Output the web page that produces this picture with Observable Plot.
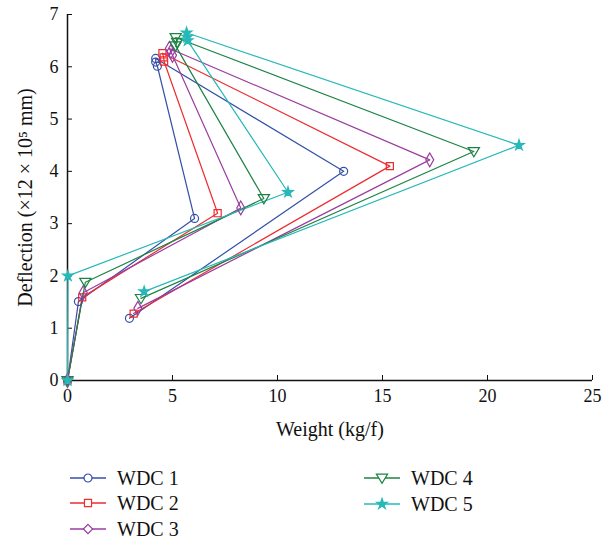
<!DOCTYPE html>
<html><head><meta charset="utf-8">
<script src="https://cdn.jsdelivr.net/npm/d3@7"></script>
<script src="https://cdn.jsdelivr.net/npm/@observablehq/plot@0.6"></script>
</head><body style="margin:0;background:#fff;font-family:'Liberation Serif',serif;">
<div id="wrap" style="position:relative;width:615px;height:543px;font-family:'Liberation Serif',serif;"><div id="chart"></div><div id="legend"></div></div>
<script>
const seriesNames = ["WDC 1", "WDC 2", "WDC 3", "WDC 4", "WDC 5"];
const seriesColors = ["#3350a8", "#ee2b2f", "#9b3d9f", "#1d8344", "#27b8b8"];

const wdc1X = [0, 0.52, 6.05, 4.28, 4.2, 4.2, 13.15, 2.95];
const wdc1Y = [0, 1.51, 3.1, 6.01, 6.09, 6.16, 4.0, 1.19];
const wdc2X = [0, 0.7, 7.15, 4.6, 4.58, 4.52, 15.35, 3.15];
const wdc2Y = [0, 1.59, 3.2, 6.1, 6.18, 6.26, 4.1, 1.28];
const wdc3X = [0, 0.75, 8.25, 5.0, 4.92, 4.85, 17.25, 3.35];
const wdc3Y = [0, 1.68, 3.3, 6.22, 6.29, 6.35, 4.22, 1.38];
const wdc4X = [0, 0.85, 9.35, 5.15, 5.22, 5.15, 19.35, 3.5];
const wdc4Y = [0, 1.88, 3.48, 6.4, 6.47, 6.56, 4.38, 1.57];
const wdc5X = [0, 0.02, 10.5, 5.72, 5.7, 5.67, 21.5, 3.65];
const wdc5Y = [0, 2.0, 3.6, 6.5, 6.57, 6.65, 4.5, 1.7];

const xTicks = [0, 5, 10, 15, 20, 25];
const yTicks = [0, 1, 2, 3, 4, 5, 6, 7];

const allX = [wdc1X, wdc2X, wdc3X, wdc4X, wdc5X];
const allY = [wdc1Y, wdc2Y, wdc3Y, wdc4Y, wdc5Y];

const rows = [];
seriesNames.forEach((name, s) => {
  allX[s].forEach((x, i) => rows.push({series: name, order: i, x, y: allY[s][i]}));
});

const triDown = {
  draw(ctx, size) {
    const s = Math.sqrt(size);
    ctx.moveTo(-0.72 * s, -0.5 * s);
    ctx.lineTo(0.72 * s, -0.5 * s);
    ctx.lineTo(0, 0.68 * s);
    ctx.closePath();
  }
};
const symbols = ["circle", "square", "diamond", triDown, "star"];
const fills = ["none", "none", "none", "none", seriesColors[4]];
const sizes = [4, 4, 4.2, 4.4, 3.3];

const dotMarks = seriesNames.map((name, s) =>
  Plot.dot(rows.filter(d => d.series === name), {
    x: "x", y: "y", stroke: seriesColors[s], fill: fills[s],
    symbol: symbols[s], r: sizes[s], strokeWidth: 1.2
  })
);
const lineMarks = seriesNames.map((name, s) =>
  Plot.line(rows.filter(d => d.series === name), {
    x: "x", y: "y", stroke: seriesColors[s], strokeWidth: 1.2, sort: null
  })
);

const serif = "'Liberation Serif', serif";
const chart = Plot.plot({
  width: 615,
  height: 455,
  marginLeft: 67,
  marginRight: 23,
  marginTop: 14,
  marginBottom: 75,
  style: {fontFamily: serif, fontSize: "18px", color: "#111", background: "#fff"},
  x: {domain: [0, 25], ticks: xTicks},
  y: {domain: [0, 7], ticks: yTicks},
  marks: [
    Plot.axisX({ticks: xTicks, tickFormat: d3.format("d"), tickSize: -5, tickPadding: 14, fontSize: 18, label: null}),
    Plot.axisY({ticks: yTicks, tickFormat: d3.format("d"), tickSize: -5, tickPadding: 14, fontSize: 18, label: null}),
    Plot.ruleY([0], {stroke: "#111", strokeWidth: 1.5}),
    Plot.ruleX([0], {stroke: "#111", strokeWidth: 1.5}),
    ...lineMarks,
    ...dotMarks,
    Plot.text(["Weight (kg/f)"], {frameAnchor: "bottom", dy: 55, fontSize: 20, fill: "#111"}),
    Plot.text(["Deflection (×12 × 10⁵ mm)"], {frameAnchor: "left", dx: -42, rotate: -90, textAnchor: "middle", fontSize: 20, fill: "#111"})
  ]
});
chart.querySelectorAll("g, text, tspan").forEach(t => { t.style.fontFamily = serif; });
document.getElementById("chart").appendChild(chart);

// legend
const legendPos = [[70, 478], [70, 503], [70, 529], [364, 478], [364, 504]];
const legend = document.getElementById("legend");
seriesNames.forEach((name, s) => {
  const [lx, ly] = legendPos[s];
  const div = document.createElement("div");
  div.style.cssText = `position:absolute;left:${lx}px;top:${ly - 12}px;height:24px;display:flex;align-items:center;font-size:20px;color:#111;font-family:${serif};`;
  const sw = d3.create("svg").attr("width", 36).attr("height", 24).style("margin-right", "11px");
  sw.append("line").attr("x1", 0).attr("x2", 36).attr("y1", 12).attr("y2", 12)
    .attr("stroke", seriesColors[s]).attr("stroke-width", 1.3);
  const sym = typeof symbols[s] === "string"
    ? {circle: d3.symbolCircle, square: d3.symbolSquare, diamond: d3.symbolDiamond2, star: d3.symbolStar}[symbols[s]]
    : symbols[s];
  sw.append("path").attr("transform", "translate(18,12)")
    .attr("d", d3.symbol(sym, Math.PI * sizes[s] * sizes[s])())
    .attr("fill", fills[s] === "none" ? "#fff" : fills[s])
    .attr("stroke", seriesColors[s]).attr("stroke-width", 1.2);
  div.appendChild(sw.node());
  const t = document.createElement("span");
  t.style.fontFamily = serif;
  t.textContent = name;
  div.appendChild(t);
  legend.appendChild(div);
});
</script></body></html>
